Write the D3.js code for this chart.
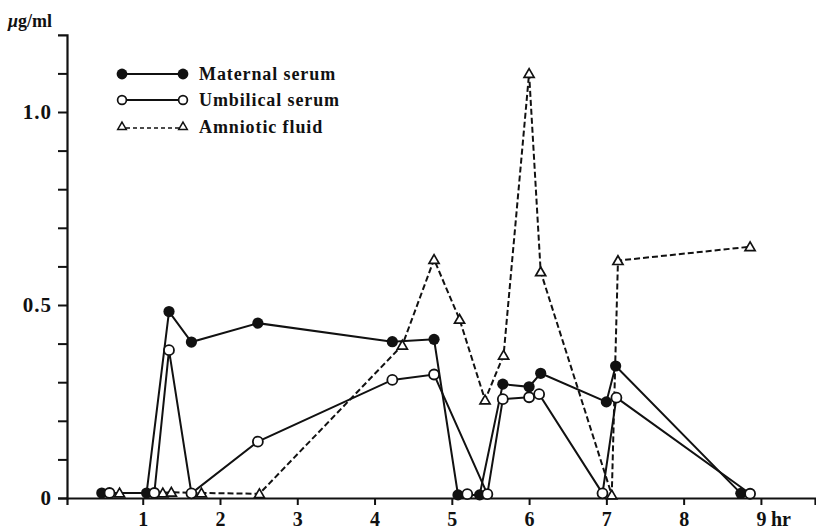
<!DOCTYPE html>
<html>
<head>
<meta charset="utf-8">
<script src="https://cdn.jsdelivr.net/npm/d3@7"></script>
<style>
  html, body { margin: 0; padding: 0; background: #fff; }
  svg { display: block; }
  text { font-family: "Liberation Serif", "DejaVu Serif", serif; font-weight: bold; fill: #111; }
</style>
</head>
<body>
<svg id="chart" width="816" height="530"></svg>
<script>
// ---- data (hours, µg/ml) ----
const maternalHr  = [0.47, 1.05, 1.34, 1.63, 2.49, 4.23, 4.77, 5.08, 5.36, 5.66, 6.00, 6.15, 7.00, 7.12, 8.74];
const maternalVal = [0.013, 0.013, 0.483, 0.404, 0.453, 0.405, 0.411, 0.008, 0.008, 0.295, 0.288, 0.323, 0.249, 0.342, 0.012];

const umbilicalHr  = [0.57, 1.15, 1.34, 1.63, 2.49, 4.23, 4.77, 5.46, 5.66, 6.00, 6.13, 6.95, 7.13, 8.86];
const umbilicalVal = [0.013, 0.013, 0.383, 0.012, 0.146, 0.306, 0.320, 0.010, 0.256, 0.261, 0.269, 0.012, 0.260, 0.011];
// umbilical sample not joined by the drawn line
const umbilicalLooseHr  = [5.20];
const umbilicalLooseVal = [0.010];

const amnioticHr  = [0.70, 1.26, 1.37, 1.76, 2.51, 4.36, 4.77, 5.10, 5.43, 5.67, 6.00, 6.15, 7.07, 7.15, 8.86];
const amnioticVal = [0.013, 0.013, 0.015, 0.013, 0.011, 0.396, 0.618, 0.463, 0.254, 0.370, 1.100, 0.586, 0.008, 0.615, 0.651];

const xTicks = [1, 2, 3, 4, 5, 6, 7, 8, 9];
const yTicks = [0, 0.1, 0.2, 0.3, 0.4, 0.5, 0.6, 0.7, 0.8, 0.9, 1.0, 1.1];
const yLabelled = {0: "0", 0.5: "0.5", 1: "1.0"};
const seriesNames = ["Maternal serum", "Umbilical serum", "Amniotic fluid"];
const yUnitMu = "\u03BC";
const yUnitRest = "g/ml";
const xUnit = "hr";

// ---- layout ----
const svg = d3.select("#chart");
const x = d3.scaleLinear().domain([0.02, 9.7]).range([67, 815]);
const y = d3.scaleLinear().domain([0, 1.2]).range([498, 34.8]);
const ink = "#111";

// axes
const xAxis = d3.axisBottom(x).tickValues(xTicks).tickFormat(d3.format("d")).tickSizeOuter(0).tickSize(7).tickPadding(7);
const gx = svg.append("g").attr("transform", `translate(0,${y(0)})`).call(xAxis);
gx.select(".domain").attr("stroke", ink).attr("stroke-width", 2.2);
gx.selectAll(".tick line").attr("stroke", ink).attr("stroke-width", 2);
gx.selectAll(".tick text").attr("font-size", 20).attr("fill", ink)
  .style("font-family", '"Liberation Serif", serif').style("font-weight", "bold");

const yAxis = d3.axisLeft(y).tickValues(yTicks).tickFormat(d => yLabelled[d] || "").tickSizeOuter(0).tickSize(9).tickPadding(6);
const gy = svg.append("g").attr("transform", `translate(${x(0.02)},0)`).call(yAxis);
gy.select(".domain").attr("stroke", ink).attr("stroke-width", 2.2);
gy.selectAll(".tick line").attr("stroke", ink).attr("stroke-width", 2);
gy.selectAll(".tick text").attr("font-size", 21).attr("fill", ink).attr("letter-spacing", 1)
  .style("font-family", '"Liberation Serif", serif').style("font-weight", "bold");

// unit labels
const ut = svg.append("text").attr("x", 8).attr("y", 27).attr("font-size", 18);
ut.append("tspan").attr("font-style", "italic").text(yUnitMu);
ut.append("tspan").text(yUnitRest);
svg.append("text").attr("x", 771).attr("y", 526).attr("font-size", 20).text(xUnit);

// helpers
const zip = (a, b) => a.map((d, i) => [d, b[i]]);
const line = d3.line().x(d => x(d[0])).y(d => y(d[1]));
const tri = d3.symbol().type(d3.symbolTriangle).size(44);

const mat = zip(maternalHr, maternalVal);
const umb = zip(umbilicalHr, umbilicalVal);
const umbLoose = zip(umbilicalLooseHr, umbilicalLooseVal);
const amn = zip(amnioticHr, amnioticVal);

const plot = svg.append("g");
plot.append("path").datum(amn).attr("d", line).attr("fill", "none").attr("stroke", ink)
  .attr("stroke-width", 2).attr("stroke-dasharray", "6,3");
plot.append("path").datum(mat).attr("d", line).attr("fill", "none").attr("stroke", ink).attr("stroke-width", 2);
plot.append("path").datum(umb).attr("d", line).attr("fill", "none").attr("stroke", ink).attr("stroke-width", 2);

plot.selectAll(".amn").data(amn).join("path").attr("class", "amn")
  .attr("d", tri).attr("transform", d => `translate(${x(d[0])},${y(d[1]) + 1})`)
  .attr("fill", "#fff").attr("stroke", ink).attr("stroke-width", 1.7);
plot.selectAll(".mat").data(mat).join("circle").attr("class", "mat")
  .attr("cx", d => x(d[0])).attr("cy", d => y(d[1])).attr("r", 5.6).attr("fill", ink);
plot.selectAll(".umb").data(umb.concat(umbLoose)).join("circle").attr("class", "umb")
  .attr("cx", d => x(d[0])).attr("cy", d => y(d[1])).attr("r", 5)
  .attr("fill", "#fff").attr("stroke", ink).attr("stroke-width", 1.8);

// legend
const lg = svg.append("g");
const legY = [74, 100, 127];
const lx0 = 122, lx1 = 183;
// maternal
lg.append("line").attr("x1", lx0).attr("x2", lx1).attr("y1", legY[0]).attr("y2", legY[0]).attr("stroke", ink).attr("stroke-width", 1.8);
[lx0, lx1].forEach(px => lg.append("circle").attr("cx", px).attr("cy", legY[0]).attr("r", 5.4).attr("fill", ink));
// umbilical
lg.append("line").attr("x1", lx0).attr("x2", lx1).attr("y1", legY[1]).attr("y2", legY[1]).attr("stroke", ink).attr("stroke-width", 1.8);
[lx0, lx1].forEach(px => lg.append("circle").attr("cx", px).attr("cy", legY[1]).attr("r", 4.4)
  .attr("fill", "#fff").attr("stroke", ink).attr("stroke-width", 1.7));
// amniotic
lg.append("line").attr("x1", lx0 + 4).attr("x2", lx1 - 4).attr("y1", legY[2] + 1).attr("y2", legY[2] + 1)
  .attr("stroke", ink).attr("stroke-width", 1.6).attr("stroke-dasharray", "4,3");
[lx0, lx1].forEach(px => lg.append("path").attr("d", d3.symbol().type(d3.symbolTriangle).size(32))
  .attr("transform", `translate(${px},${legY[2]})`).attr("fill", "#fff").attr("stroke", ink).attr("stroke-width", 1.5));
lg.selectAll(".lt").data(seriesNames).join("text").attr("class", "lt")
  .attr("x", 199).attr("y", (d, i) => legY[i] + 6).attr("font-size", 18).attr("letter-spacing", 0.9).text(d => d);
</script>
</body>
</html>
